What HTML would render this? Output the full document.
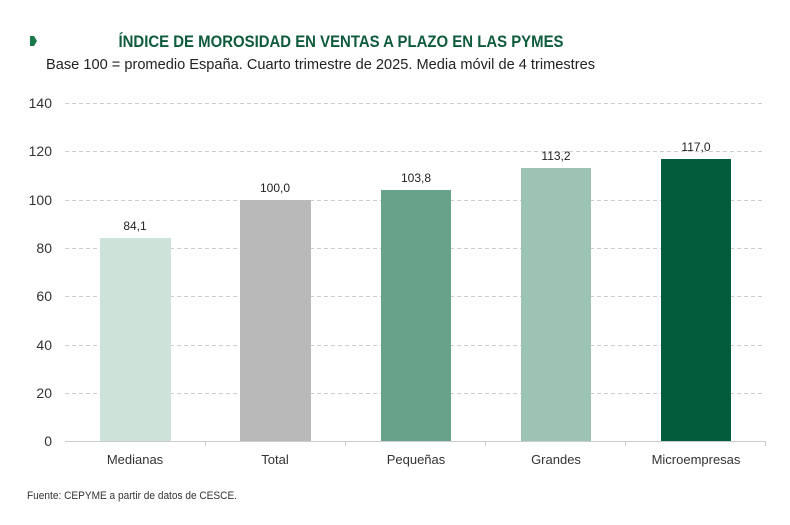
<!DOCTYPE html>
<html><head><meta charset="utf-8"><style>
body{margin:0;background:#fff;width:790px;height:525px;overflow:hidden}
svg{display:block;font-family:"Liberation Sans",sans-serif}
</style></head><body>
<svg width="790" height="525" viewBox="0 0 790 525">
<path d="M30 36 L34 36 L37 41 L34 46 L30 46 Z" fill="#1a7a4e"/>
<text x="341" y="47" text-anchor="middle" font-size="17" font-weight="bold" fill="#0e5b3c" textLength="445" lengthAdjust="spacingAndGlyphs">ÍNDICE DE MOROSIDAD EN VENTAS A PLAZO EN LAS PYMES</text>
<text x="46" y="69" font-size="15" fill="#222" textLength="549" lengthAdjust="spacingAndGlyphs">Base 100 = promedio España. Cuarto trimestre de 2025. Media móvil de 4 trimestres</text>
<g stroke="#ccc" stroke-dasharray="4,3" stroke-width="1">
<line x1="65" x2="765" y1="103.5" y2="103.5"/><line x1="65" x2="765" y1="151.5" y2="151.5"/>
<line x1="65" x2="765" y1="200.5" y2="200.5"/><line x1="65" x2="765" y1="248.5" y2="248.5"/>
<line x1="65" x2="765" y1="296.5" y2="296.5"/><line x1="65" x2="765" y1="345.5" y2="345.5"/>
<line x1="65" x2="765" y1="393.5" y2="393.5"/>
</g>
<g font-size="14" fill="#333" text-anchor="end">
<text x="52" y="108">140</text><text x="52" y="156">120</text><text x="52" y="205">100</text>
<text x="52" y="253">80</text><text x="52" y="301">60</text><text x="52" y="350">40</text>
<text x="52" y="398">20</text><text x="52" y="446">0</text>
</g>
<rect x="100" y="238" width="71" height="203" fill="#cde2d9"/>
<rect x="240" y="200" width="71" height="241" fill="#b9b9b9"/>
<rect x="381" y="190" width="70" height="251" fill="#67a28b"/>
<rect x="521" y="168" width="70" height="273" fill="#9cc3b4"/>
<rect x="661" y="159" width="70" height="282" fill="#015d3c"/>
<line x1="65" x2="765" y1="441.5" y2="441.5" stroke="#ccc"/>
<g stroke="#ccc"><line x1="205.5" x2="205.5" y1="441" y2="446"/><line x1="345.5" x2="345.5" y1="441" y2="446"/><line x1="485.5" x2="485.5" y1="441" y2="446"/><line x1="625.5" x2="625.5" y1="441" y2="446"/><line x1="765.5" x2="765.5" y1="441" y2="446"/></g>
<g font-size="12" fill="#222" text-anchor="middle">
<text x="135" y="230">84,1</text><text x="275" y="192">100,0</text><text x="416" y="182">103,8</text>
<text x="556" y="160">113,2</text><text x="696" y="151">117,0</text>
</g>
<g font-size="13" fill="#333" text-anchor="middle">
<text x="135" y="464">Medianas</text><text x="275" y="464">Total</text><text x="416" y="464">Pequeñas</text>
<text x="556" y="464">Grandes</text><text x="696" y="464">Microempresas</text>
</g>
<text x="27" y="499" font-size="11" fill="#333" textLength="210" lengthAdjust="spacingAndGlyphs">Fuente: CEPYME a partir de datos de CESCE.</text>
</svg>
</body></html>
